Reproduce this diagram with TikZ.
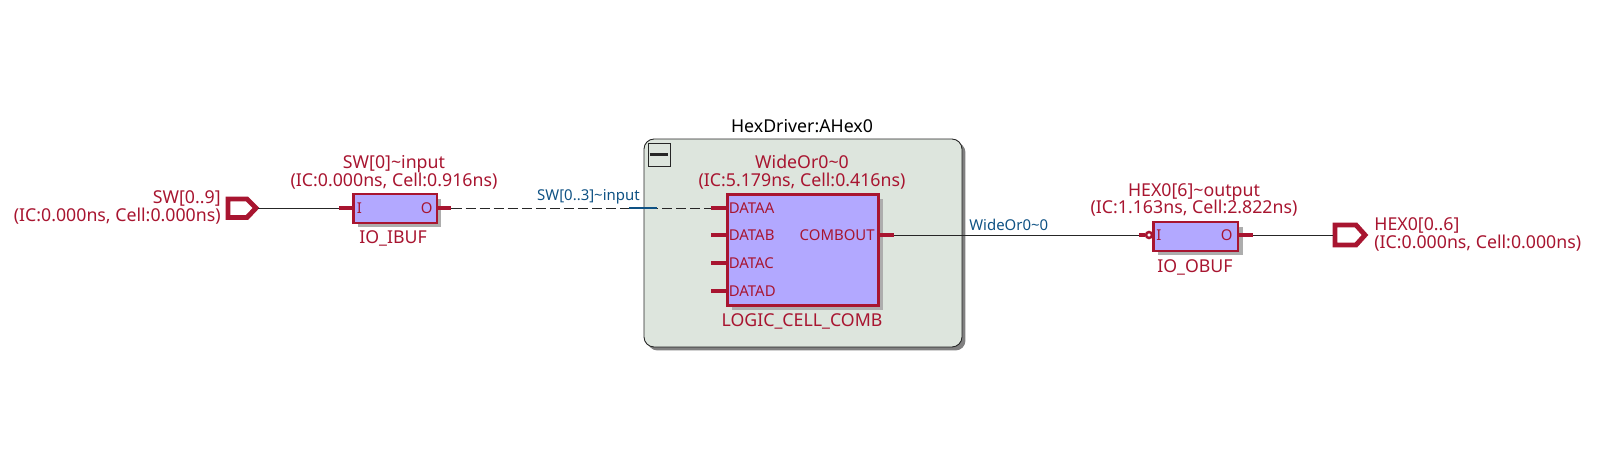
\documentclass[tikz,border=0pt]{standalone}
\usepackage{fontspec}
\setmainfont{Noto Sans}
\usepackage{xcolor}
\usepackage{tikz}
\usetikzlibrary{shadows}
\definecolor{atomred}{HTML}{A81530}
\definecolor{cellfill}{HTML}{B2A8FF}
\definecolor{groupfill}{HTML}{DDE5DD}
\definecolor{netblue}{HTML}{0F5284}
\tikzset{
  wire/.style={line width=.45pt, draw=black!85},
  stub/.style={line width=1.75pt, draw=atomred},
  pinbody/.style={line width=2.8pt, draw=atomred, fill=white, line join=miter},
  atomtext/.style={text=atomred, font=\fontsize{10.1}{10.2}\selectfont, align=center, inner sep=0},
  porttext/.style={text=atomred, font=\fontsize{8.5}{9}\selectfont, inner sep=0},
  nettext/.style={text=netblue, font=\fontsize{8.5}{9}\selectfont, inner sep=0},
  cell/.style={draw=atomred, line width=1.7pt, fill=cellfill, inner sep=0,
    drop shadow={shadow xshift=.09cm, shadow yshift=-.09cm, fill=black!32, opacity=1}},
  group/.style={draw=black!85, line width=.5pt, fill=groupfill, rounded corners=.2cm, inner sep=0,
    drop shadow={shadow xshift=.07cm, shadow yshift=-.07cm, fill=black!50, opacity=1}},
}

\begin{document}
\begin{tikzpicture} [x=.02cm, y=-.02cm]
\useasboundingbox (0,0) rectangle (1600,466);
% hierarchy box
\node[group, minimum width=6.36cm, minimum height=4.16cm] (hexgroup) at (803,243) {};
\node[inner sep=0, font=\fontsize{10.1}{10.2}\selectfont] (hextitle) at (802,126) {HexDriver:AHex0};
\node[draw=black!85, line width=.45pt, minimum width=.44cm, minimum height=.46cm, inner sep=0] (collapse) at (659,154.5) {};
\draw[line width=1.7pt, black!85] ([xshift=.04cm]collapse.west) -- ([xshift=-.04cm]collapse.east);

% input pin
\draw[pinbody] (228,199) -- (247,199) -- (256,208) -- (247,217.5) -- (228,217.5) -- cycle;
\coordinate (swpin) at (258,208);
\node[atomtext, anchor=east, align=right] (swlabel) at (221,207.5) {SW[0..9]\\(IC:0.000ns, Cell:0.000ns)};

% input buffer
\node[cell, minimum width=1.68cm, minimum height=.58cm] (ibuf) at (395,208.5) {};
\draw[stub] (ibuf.west |- swpin) --++(-13,0) coordinate (ibufI);
\draw[stub] (ibuf.east |- swpin) --++(13,0) coordinate (ibufO);
\node[porttext, anchor=west] (ibufIt) at (356.5,208) {I};
\node[porttext, anchor=east] (ibufOt) at (433,208) {O};
\node[atomtext] (ibuftop) at (394,172.5) {SW[0]\textasciitilde input\\(IC:0.000ns, Cell:0.916ns)};
\node[atomtext] (ibufname) at (393,238) {IO\_IBUF};

% logic cell
\node[cell, minimum width=3.04cm, minimum height=2.24cm] (comb) at (803,250) {};
\foreach \p/\y in {A/208,B/235,C/263,D/291} {
 \draw[stub] (comb.west |- 0,\y) --++(-15,0) coordinate (data\p);
 \node[porttext, anchor=west] (text\p) at (728.5,\y) {DATA\p};
}
\draw[stub] (comb.east |- 0,235) --++(14,0) coordinate (combO);
\node[porttext, anchor=east] (combOt) at (875,235) {COMBOUT};
\node[atomtext] (combtop) at (802,172) {WideOr0\textasciitilde 0\\(IC:5.179ns, Cell:0.416ns)};
\node[atomtext] (combname) at (802,321) {LOGIC\_CELL\_COMB};

% output buffer
\node[cell, minimum width=1.7cm, minimum height=.58cm] (obuf) at (1195.5,236.5) {};
\node[draw=atomred, line width=1.4pt, fill=white, circle, minimum size=.12cm, inner sep=0] (bubble) at (1149,235) {};
\draw[stub] (bubble.west) --++(-6,0) coordinate (obufI);
\draw[stub] (obuf.east |- bubble) --++(14,0) coordinate (obufO);
\node[porttext, anchor=west] (obufIt) at (1156,235) {I};
\node[porttext, anchor=east] (obufOt) at (1233,235) {O};
\node[atomtext] (obuftop) at (1194,200) {HEX0[6]\textasciitilde output\\(IC:1.163ns, Cell:2.822ns)};
\node[atomtext] (obufname) at (1195,267) {IO\_OBUF};

% output pin
\draw[pinbody] (1335,225) -- (1356,225) -- (1365,235) -- (1356,245) -- (1335,245) -- cycle;
\coordinate (hexpin) at (1333,235);
\node[atomtext, anchor=west, align=left] (hexlabel) at (1374,234.5) {HEX0[0..6]\\(IC:0.000ns, Cell:0.000ns)};

% nets
\draw[wire] (swpin) -- (ibufI);
\draw[wire, dash pattern=on 5.7pt off 2.3pt] (ibufO) -- (dataA);
\draw[netblue, line width=1.6pt] (629,208) -- (657,208);
\node[nettext, anchor=east] (swnet) at (640,197) {SW[0..3]\textasciitilde input};
\draw[wire] (combO) -- (obufI);
\node[nettext, anchor=west] (widenet) at (969,225) {WideOr0\textasciitilde 0};
\draw[wire] (obufO) -- (hexpin);
\end{tikzpicture}
\end{document}
